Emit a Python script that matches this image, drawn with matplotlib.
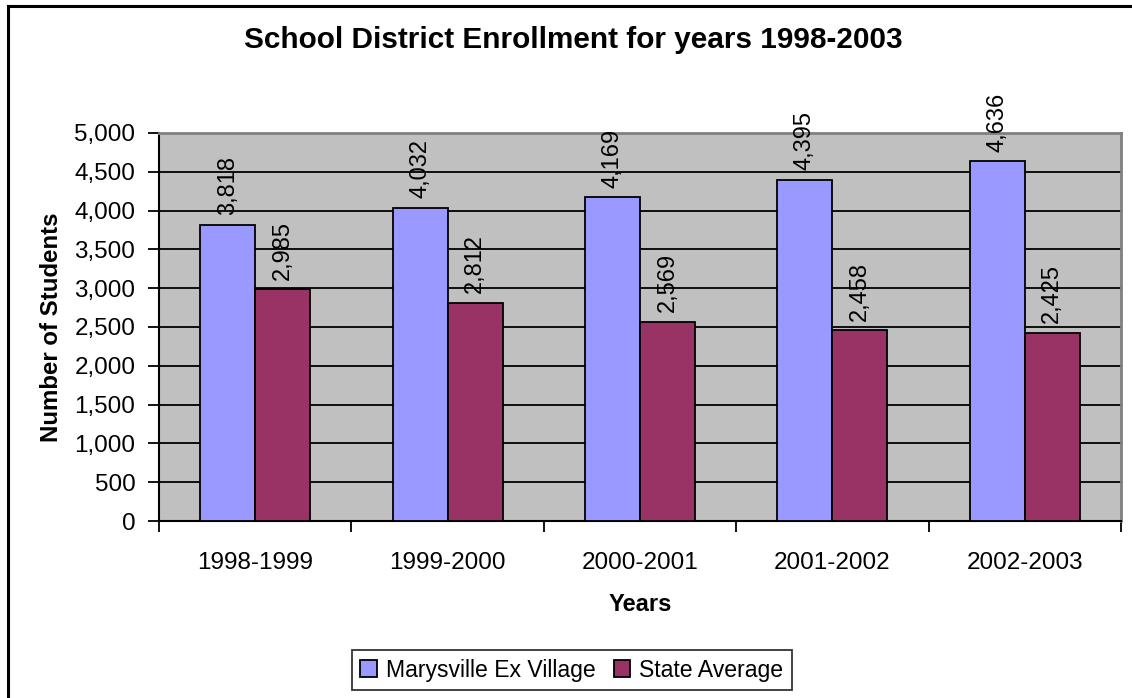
import matplotlib.pyplot as plt
import matplotlib.patches as mpatches
import numpy as np

plt.rcParams['font.family'] = ['Liberation Sans', 'DejaVu Sans']

years = ['1998-1999', '1999-2000', '2000-2001', '2001-2002', '2002-2003']
marysville = [3818, 4032, 4169, 4395, 4636]
state_avg = [2985, 2812, 2569, 2458, 2425]
series_labels = ['Marysville Ex Village', 'State Average']
colors = ['#9999FF', '#993366']

W, H = 1132, 698
fig = plt.figure(figsize=(W / 100, H / 100), dpi=100)

# outer chart frame (only the left and top edges are inside the picture)
fig.add_artist(plt.Line2D([8 / W, 8 / W], [0, 1 - 6 / H], color='black', lw=2.2))
fig.add_artist(plt.Line2D([8 / W, 1], [1 - 6 / H, 1 - 6 / H], color='black', lw=2.2))

ax = fig.add_axes([159 / W, (H - 521) / H, (1121 - 159) / W, (521 - 133) / H])
ax.set_facecolor('#C0C0C0')

x = np.arange(len(years))
w = 1 / 3.5  # Excel gap width 150%
b1 = ax.bar(x - w / 2, marysville, w, color=colors[0], edgecolor='black', lw=1.3,
            label=series_labels[0], zorder=3)
b2 = ax.bar(x + w / 2, state_avg, w, color=colors[1], edgecolor='black', lw=1.3,
            label=series_labels[1], zorder=3)

for bars, vals in [(b1, marysville), (b2, state_avg)]:
    for r, v in zip(bars, vals):
        ax.annotate(f'{v:,}', (r.get_x() + r.get_width() / 2, v), xytext=(0, 7),
                    textcoords='offset points', rotation=90, ha='center', va='bottom',
                    fontsize=17)

ax.set_xlim(-0.5, len(years) - 0.5)
ax.set_ylim(0, 5000)
ax.set_yticks(np.arange(0, 5001, 500))
ax.set_yticklabels([f'{t:,}' for t in range(0, 5001, 500)], fontsize=17.5)
ax.yaxis.grid(True, color='black', lw=1.3, zorder=1)
ax.set_axisbelow(True)

ax.set_xticks(np.arange(-0.5, len(years), 1))
ax.set_xticklabels([])
ax.set_xticks(x, minor=True)
ax.set_xticklabels(years, minor=True, fontsize=17.5)
ax.tick_params(axis='x', which='minor', length=0, pad=22)
ax.tick_params(axis='x', which='major', length=8, width=1.3, color='black')
ax.tick_params(axis='y', length=8, width=1.3, pad=9)

for s in ['left', 'bottom']:
    ax.spines[s].set_color('black')
    ax.spines[s].set_linewidth(1.5)
for s in ['top', 'right']:
    ax.spines[s].set_color('#808080')
    ax.spines[s].set_linewidth(2)

ax.set_xlabel('Years', fontsize=17, fontweight='bold', labelpad=14)
ax.set_ylabel('Number of Students', fontsize=17.3, fontweight='bold', labelpad=8)

fig.text(573.5 / W, 1 - 40 / H, 'School District Enrollment for years 1998-2003',
         ha='center', va='center', fontsize=21.4, fontweight='bold')

handles = [mpatches.Patch(facecolor=c, edgecolor='black', lw=1.3) for c in colors]
leg = fig.legend(handles, series_labels, loc='center', bbox_to_anchor=(572 / W, 1 - 670 / H),
                 ncol=2, fontsize=16.6, frameon=True, fancybox=False, handlelength=0.7,
                 handleheight=0.7, handletextpad=0.4, columnspacing=0.8, borderpad=0.35)
leg.get_frame().set_edgecolor('black')
leg.get_frame().set_linewidth(1.3)

plt.savefig('out.png', dpi=100)
